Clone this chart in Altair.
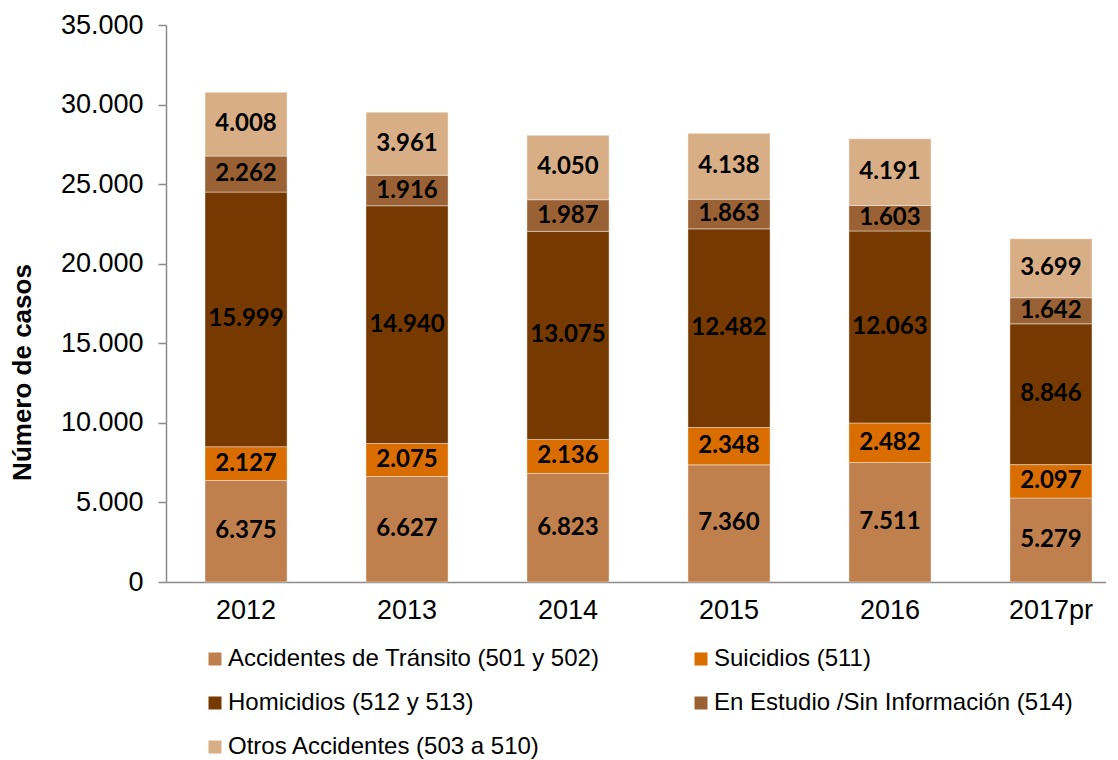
import altair as alt
import pandas as pd

years = ["2012", "2013", "2014", "2015", "2016", "2017pr"]
series = [
    "Accidentes de Tránsito (501 y 502)",
    "Suicidios (511)",
    "Homicidios (512 y 513)",
    "En Estudio /Sin Información (514)",
    "Otros Accidentes (503 a 510)",
]
transito = [6375, 6627, 6823, 7360, 7511, 5279]
suicidios = [2127, 2075, 2136, 2348, 2482, 2097]
homicidios = [15999, 14940, 13075, 12482, 12063, 8846]
estudio = [2262, 1916, 1987, 1863, 1603, 1642]
otros = [4008, 3961, 4050, 4138, 4191, 3699]
colors = ["#C0804E", "#D96D00", "#763A00", "#9A6234", "#D8AE86"]
y_ticks = [0, 5000, 10000, 15000, 20000, 25000, 30000, 35000]

rows = []
for si, vals in enumerate([transito, suicidios, homicidios, estudio, otros]):
    for yi, y in enumerate(years):
        rows.append({"year": y, "serie": series[si], "ord": si, "value": vals[yi]})
df = pd.DataFrame(rows)

base = (
    alt.Chart(df)
    .transform_stack(stack="value", as_=["v0", "v1"], groupby=["year"],
                     sort=[alt.SortField("ord", order="ascending")])
    .transform_calculate(
        mid="(datum.v0 + datum.v1) / 2",
        lbl="replace(format(datum.value, ','), ',', '.')",
    )
)

xenc = alt.X(
    "year:N",
    sort=years,
    title=None,
    scale=alt.Scale(paddingInner=0.49, paddingOuter=0.1646, align=0.736),
    axis=alt.Axis(
        labelAngle=0, ticks=False, domainColor="#8a8a8a", domainWidth=1.5,
        labelFont="Liberation Sans", labelFontSize=27, labelColor="#000000",
        labelPadding=15,
    ),
)

bars = base.mark_bar(stroke="#ffffff", strokeWidth=0.8, strokeOpacity=0.5).encode(
    x=xenc,
    y=alt.Y(
        "v0:Q",
        scale=alt.Scale(domain=[0, 35000], nice=False),
        axis=alt.Axis(
            values=y_ticks, grid=False,
            labelExpr="replace(format(datum.value, ','), ',', '.')",
            labelFont="Liberation Sans", labelFontSize=27, labelColor="#000000",
            labelPadding=15, tickSize=8, tickColor="#8a8a8a", domainColor="#8a8a8a",
            domainWidth=1.5, tickWidth=1.5,
            title="Número de casos", titleFont="Liberation Sans", titleFontSize=26,
            titleFontWeight="bold", titleColor="#000000", titleAngle=-90,
            titleX=-144, titleY=347, titleAlign="center", titleBaseline="middle",
        ),
    ),
    y2="v1:Q",
    color=alt.Color(
        "serie:N",
        scale=alt.Scale(domain=series, range=colors),
        legend=alt.Legend(
            title=None, orient="none", legendX=37, legendY=622, columns=2,
            direction="horizontal",
            symbolType="square", symbolSize=169, symbolStrokeWidth=0,
            labelFont="Liberation Sans", labelFontSize=24, labelColor="#000000",
            labelOffset=1, columnPadding=89, rowPadding=20, padding=0,
            labelLimit=600,
        ),
    ),
    order=alt.Order("ord:Q"),
)

texts = base.mark_text(
    font="Lato", fontWeight="bold", fontSize=24, color="#000000", baseline="middle"
).encode(
    x=alt.X("year:N", sort=years),
    y=alt.Y("mid:Q"),
    text="lbl:N",
)

chart = (
    alt.layer(bars, texts)
    .properties(
        width=940, height=557,
        autosize=alt.AutoSizeParams(type="none"),
        padding={"left": 158, "top": 17, "right": 0, "bottom": 186},
    )
    .configure_view(stroke=None)
)

chart.save("out.html", embed_options={"renderer": "svg", "actions": False})
